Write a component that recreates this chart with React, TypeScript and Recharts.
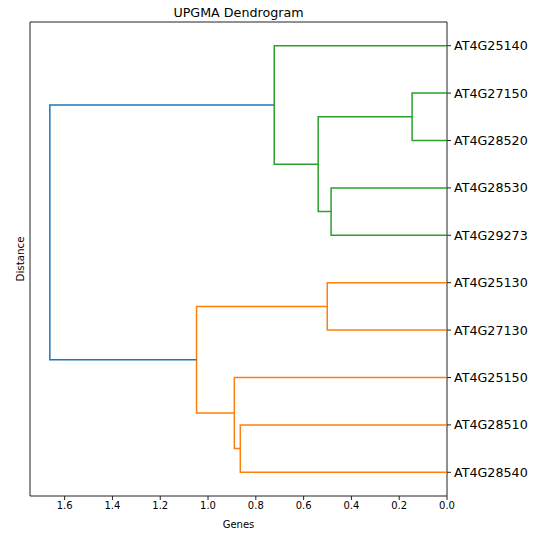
import React from "react";
import { ScatterChart, Scatter, XAxis, YAxis, ReferenceLine } from "recharts";

// leaves top to bottom
const leaves = [
  "AT4G25140",
  "AT4G27150",
  "AT4G28520",
  "AT4G28530",
  "AT4G29273",
  "AT4G25130",
  "AT4G27130",
  "AT4G25150",
  "AT4G28510",
  "AT4G28540",
];

// merges: [child a, child b] -> new cluster id = leaves.length + index
const mergeChildren: [number, number][] = [
  [1, 2],
  [3, 4],
  [10, 11],
  [0, 12],
  [5, 6],
  [8, 9],
  [7, 15],
  [14, 16],
  [13, 17],
];
const mergeHeights = [0.146, 0.485, 0.539, 0.723, 0.501, 0.865, 0.89, 1.048, 1.662];
const mergeColors = [
  "#2ca02c", "#2ca02c", "#2ca02c", "#2ca02c",
  "#ff7f0e", "#ff7f0e", "#ff7f0e", "#ff7f0e",
  "#1f77b4",
];

const xTicks = [0, 0.2, 0.4, 0.6, 0.8, 1.0, 1.2, 1.4, 1.6];
const xMax = 1.745;

const FONT = "'DejaVu Sans', sans-serif";

const buildLinks = () => {
  const pos: number[] = leaves.map((_, i) => 5 + 10 * i);
  const height: number[] = leaves.map(() => 0);
  return mergeChildren.map(([a, b], i) => {
    const h = mergeHeights[i];
    const pts = [
      { x: height[a], y: pos[a] },
      { x: h, y: pos[a] },
      { x: h, y: pos[b] },
      { x: height[b], y: pos[b] },
    ];
    pos.push((pos[a] + pos[b]) / 2);
    height.push(h);
    return { pts, color: mergeColors[i] };
  });
};

const links = buildLinks();
const leafTicks = leaves.map((_, i) => 5 + 10 * i);

const NoShape = () => <g />;

export default function App() {
  return (
    <div style={{ position: "absolute", left: 0, top: 0, width: 542, height: 533, background: "#fff" }}>
      <ScatterChart
        width={542}
        height={533}
        margin={{ top: 22, right: 0, bottom: 0, left: 0 }}
      >
        <XAxis
          xAxisId="bottom"
          dataKey="x"
          type="number"
          domain={[0, xMax]}
          reversed
          ticks={xTicks}
          tickFormatter={(v: number) => v.toFixed(1)}
          height={37}
          tickSize={4}
          tickMargin={2}
          tick={{ fontFamily: FONT, fontSize: 10, fill: "#000" }}
          tickLine={{ stroke: "#222" }}
          axisLine={{ stroke: "#222", strokeWidth: 1 }}
          label={{
            content: () => (
              <text
                x={238.5}
                y={528}
                textAnchor="middle"
                fontFamily={FONT}
                fontSize={10}
                fill="#000"
              >
                Genes
              </text>
            ),
          }}
        />
        <YAxis
          yAxisId="left"
          orientation="left"
          type="number"
          domain={[0, 100]}
          reversed
          width={30}
          tick={false}
          tickLine={false}
          axisLine={{ stroke: "#222", strokeWidth: 1 }}
          label={{
            content: () => (
              <text
                x={24}
                y={259}
                transform="rotate(-90, 24, 259)"
                textAnchor="middle"
                fontFamily={FONT}
                fontSize={10.3}
                fill="#000"
              >
                Distance
              </text>
            ),
          }}
        />
        <YAxis
          yAxisId="right"
          orientation="right"
          dataKey="y"
          type="number"
          domain={[0, 100]}
          reversed
          width={95}
          ticks={leafTicks}
          interval={0}
          tickFormatter={(v: number) => leaves[Math.round((v - 5) / 10)]}
          tickSize={4}
          tickMargin={3}
          tick={{ fontFamily: FONT, fontSize: 12.7, fill: "#000", textAnchor: "start" }}
          tickLine={{ stroke: "#222" }}
          axisLine={{ stroke: "#222", strokeWidth: 1 }}
        />
        <ReferenceLine xAxisId="bottom" yAxisId="right" y={0} stroke="#222" strokeWidth={1} />
        {links.map((lk, i) => (
          <Scatter
            key={i}
            data={lk.pts}
            xAxisId="bottom"
            yAxisId="right"
            fill={lk.color}
            line={{ stroke: lk.color, strokeWidth: 1.5 }}
            shape={NoShape}
            isAnimationActive={false}
          />
        ))}
      </ScatterChart>
      <svg
        width={542}
        height={22}
        style={{ position: "absolute", left: 0, top: 0, pointerEvents: "none" }}
      >
        <text
          x={238.5}
          y={17}
          textAnchor="middle"
          fontFamily={FONT}
          fontSize={12.7}
          fill="#000"
        >
          UPGMA Dendrogram
        </text>
      </svg>
    </div>
  );
}
